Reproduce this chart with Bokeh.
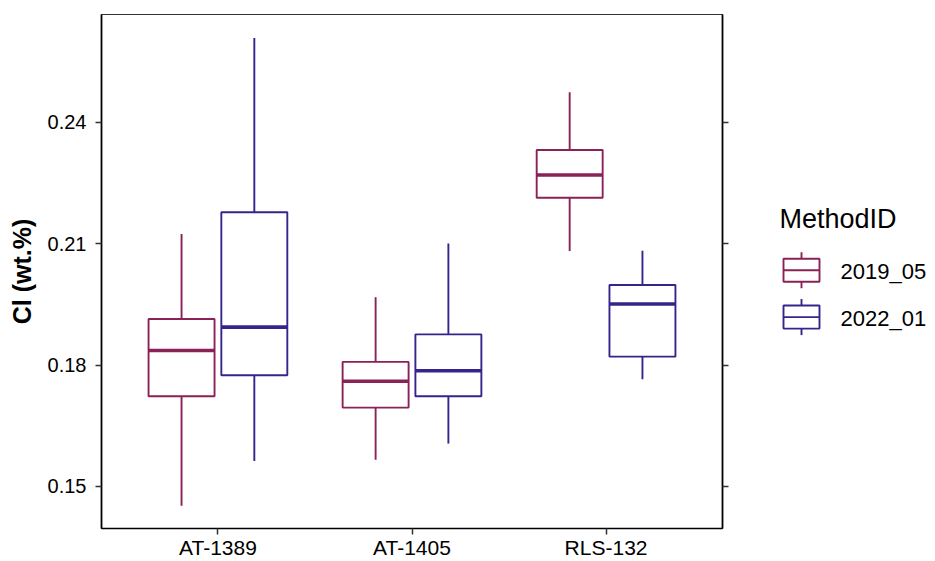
from bokeh.plotting import figure
from bokeh.models import (Range1d, FixedTicker, NumeralTickFormatter, LinearAxis,
                          ColumnDataSource, CustomLabelingPolicy)
from bokeh.layouts import row
from bokeh.core.properties import value
from bokeh.embed import file_html
from bokeh.resources import INLINE

# ---------------- data ----------------
categories = ["AT-1389", "AT-1405", "RLS-132"]
methods = ["2019_05", "2022_01"]
colors = ["#8A2157", "#36248C"]

lower_2019 = [0.1452, 0.1566, 0.2082]
q1_2019 = [0.1723, 0.1695, 0.2214]
med_2019 = [0.1836, 0.1760, 0.2270]
q3_2019 = [0.1914, 0.1808, 0.2332]
upper_2019 = [0.2124, 0.1968, 0.2475]

lower_2022 = [0.1563, 0.1606, 0.1765]
q1_2022 = [0.1775, 0.1723, 0.1821]
med_2022 = [0.1894, 0.1786, 0.1951]
q3_2022 = [0.2178, 0.1876, 0.1998]
upper_2022 = [0.2609, 0.2101, 0.2083]

y_ticks = [0.15, 0.18, 0.21, 0.24]

FONT = "Liberation Sans"
positions = list(range(1, len(categories) + 1))

P_W, H = 752, 561
TOP = 14
p = figure(
    x_range=Range1d(0.4, len(categories) + 0.6),
    y_range=Range1d(0.1396, 0.2667),
    width=P_W, height=H,
    output_backend="svg", toolbar_location=None,
    min_border_left=101, min_border_right=6, min_border_top=TOP, min_border_bottom=0,
)
p.xgrid.visible = False
p.ygrid.visible = False
p.outline_line_color = "#333333"
p.outline_line_width = 1.2
p.background_fill_color = "white"

series = [
    (lower_2019, q1_2019, med_2019, q3_2019, upper_2019),
    (lower_2022, q1_2022, med_2022, q3_2022, upper_2022),
]
offsets = [-0.1875, 0.1875]
box_w = 0.34
LWID = 1.9

for (lo, q1, md, q3, up), off, col in zip(series, offsets, colors):
    xs = [pos + off for pos in positions]
    src = ColumnDataSource(dict(
        x=xs, xl=[x - box_w / 2 for x in xs], xr=[x + box_w / 2 for x in xs],
        lower=lo, q1=q1, med=md, q3=q3, upper=up))
    p.segment(x0="x", y0="q3", x1="x", y1="upper", source=src, line_color=col, line_width=LWID)
    p.segment(x0="x", y0="lower", x1="x", y1="q1", source=src, line_color=col, line_width=LWID)
    p.vbar(x="x", width=box_w, top="q3", bottom="q1", source=src,
           fill_color="white", line_color=col, line_width=LWID)
    p.segment(x0="xl", y0="med", x1="xr", y1="med", source=src, line_color=col, line_width=3.6)

# axes
p.xaxis.ticker = FixedTicker(ticks=positions)
p.xaxis.major_label_overrides = {pos: cat for pos, cat in zip(positions, categories)}
p.yaxis.ticker = FixedTicker(ticks=y_ticks)
p.yaxis.formatter = NumeralTickFormatter(format="0.00")
p.yaxis.axis_label = "Cl (wt.%)"
p.yaxis.axis_label_text_font = FONT
p.yaxis.axis_label_text_font_style = "bold"
p.yaxis.axis_label_text_font_size = "25px"
p.yaxis.axis_label_text_color = "black"
p.yaxis.axis_label_standoff = 9

for ax in (p.xaxis[0], p.yaxis[0]):
    ax.major_label_text_font = FONT
    ax.major_label_text_color = "black"
    ax.axis_line_color = "black"
    ax.axis_line_width = 1.7
    ax.major_tick_line_color = "#333333"
    ax.major_tick_line_width = 1.5
    ax.major_tick_out = 6
    ax.major_tick_in = 0
    ax.minor_tick_line_color = None
p.yaxis.major_label_text_font_size = "20px"
p.xaxis.major_label_text_font_size = "21px"
p.yaxis.major_label_standoff = 9
p.xaxis.major_label_standoff = 1

ra = LinearAxis(ticker=FixedTicker(ticks=y_ticks))
ra.major_label_policy = CustomLabelingPolicy(code="""
for (const i of indices) { indices.unset(i) }
return indices
""")
ra.major_label_standoff = 0
ra.axis_line_color = "black"
ra.axis_line_width = 1.7
ra.major_tick_line_color = "#333333"
ra.major_tick_line_width = 1.5
ra.major_tick_out = 6
ra.major_tick_in = 0
ra.minor_tick_line_color = None
p.add_layout(ra, "right")

# ---------------- legend panel ----------------
# the row aligns this panel's frame with the plot frame (top 14, bottom ~527 px)
FRAME_BOTTOM = 527
LW = 935 - P_W
X0 = P_W  # legend panel starts where the plot canvas ends
leg = figure(width=LW, height=H, x_range=Range1d(X0, X0 + LW), y_range=Range1d(FRAME_BOTTOM, TOP),
             output_backend="svg", toolbar_location=None, title_location=None,
             min_border_left=0, min_border_right=0, min_border_top=TOP, min_border_bottom=0,
             x_axis_type=None, y_axis_type=None)
leg.outline_line_color = None
leg.xgrid.visible = False
leg.ygrid.visible = False

key_x = 801
key_w, key_h = 36, 23
key_y = [269.2, 316]
whisk = 6.5
leg_src = ColumnDataSource(dict(
    x=[key_x] * 2, y=key_y, c=colors, lab=methods,
    top=[y - key_h / 2 for y in key_y], bot=[y + key_h / 2 for y in key_y],
    wtop=[y - key_h / 2 - whisk for y in key_y], wbot=[y + key_h / 2 + whisk for y in key_y],
    xl=[key_x - key_w / 2] * 2, xr=[key_x + key_w / 2] * 2,
    tx=[840] * 2, ty=[y + 1.5 for y in key_y],
))
leg.segment(x0="x", y0="wtop", x1="x", y1="top", source=leg_src, line_color="c", line_width=LWID)
leg.segment(x0="x", y0="bot", x1="x", y1="wbot", source=leg_src, line_color="c", line_width=LWID)
leg.rect(x="x", y="y", width=key_w, height=key_h, source=leg_src,
         fill_color="white", line_color="c", line_width=LWID)
leg.segment(x0="xl", y0="y", x1="xr", y1="y", source=leg_src, line_color="c", line_width=LWID)
leg.text(x="tx", y="ty", text="lab", source=leg_src, text_font=value(FONT),
         text_font_size="22px", text_baseline="middle", text_color="black")
leg.text(x=[779], y=[218], text=["MethodID"], text_font=value(FONT),
         text_font_size="27px", text_baseline="alphabetic", text_color="black")

layout = row(p, leg)
open("out.html", "w").write(file_html(layout, INLINE))
